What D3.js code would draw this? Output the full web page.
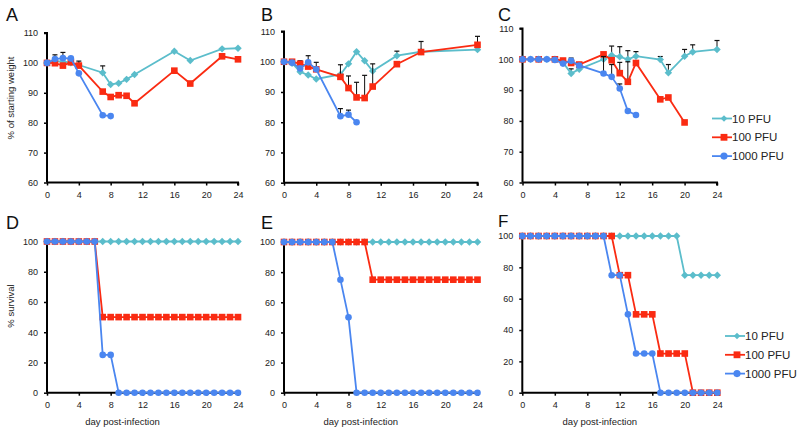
<!DOCTYPE html>
<html><head><meta charset="utf-8">
<script src="https://cdn.jsdelivr.net/npm/d3@7"></script>
<style>body{margin:0;background:#fff}svg{display:block}text{font-family:"Liberation Sans",Arial,sans-serif}</style>
</head><body><svg id="c" width="800" height="434"></svg>
<script>
// ---------- data ----------
const seriesLabels = ["10 PFU", "100 PFU", "1000 PFU"];
const xTicks = [0, 4, 8, 12, 16, 20, 24];
const weightTicks = [60, 70, 80, 90, 100, 110];
const survivalTicks = [0, 20, 40, 60, 80, 100];

// Panel A (weight)
const aDays10 = [0,1,2,3,4,7,8,9,10,11,16,18,22,24];
const aWeight10 = [100,100.5,100.5,100,99.3,96.7,92.8,93.2,94.5,96.1,103.9,100.8,104.7,104.9];
const aErr10 = [0,0,0,0,0,2.3,0,0,0,0,0,0,0,0];
const aDays100 = [0,1,2,3,4,7,8,9,10,11,16,18,22,24];
const aWeight100 = [100,99.9,99.1,100.2,99.1,90.4,88.6,89.2,89,86.5,97.4,93.1,102.2,101.2];
const aErr100 = [0,0,0,0,1.5,0,0,0,0,0,0,0,0,0];
const aDays1000 = [0,1,2,3,4,7,8];
const aWeight1000 = [100,101.3,101.6,101.5,96.5,82.5,82.2];
const aErr1000 = [0,1.4,1.9,0,0,0,0];

// Panel B (weight)
const bDays10 = [0,1,2,3,4,7,8,9,10,11,14,17,24];
const bWeight10 = [100,99.5,96.7,95.6,94.3,95.8,99.3,103.3,100.3,96.9,102,103.3,104];
const bErr10 = [0,0,0,0,0,0,0,0,0,0,1.5,0,0];
const bDays100 = [0,1,2,3,4,7,8,9,10,11,14,17,24];
const bWeight100 = [100,100,99.3,98.4,97.5,95,91.3,88.2,88,91.8,99.2,103.2,105.6];
const bErr100 = [0,0,1,0,0,4,4,5,7.5,7.5,0,3.5,2.8];
const bDays1000 = [0,1,2,3,4,7,8,9];
const bWeight1000 = [100,99.7,97.8,99.8,97.5,82,82.5,80];
const bErr1000 = [0,0,0,2.2,2.3,2.5,1.5,0];

// Panel C (weight)
const cDays10 = [0,1,2,3,4,5,6,7,10,11,12,13,14,17,18,20,21,24];
const cWeight10 = [100,100,100,100,100,99,95.4,96.8,100,101.3,100.8,100,101,99.9,95.6,101,102.4,103.2];
const cErr10 = [0,0,0,0,0,0,1.5,1.8,0,3,3.3,2.8,1.5,1,2.7,2.2,2.3,2.9];
const cDays100 = [0,2,4,5,6,7,10,11,12,13,14,17,18,20];
const cWeight100 = [100,100,100,99.6,98.8,98.3,101.6,99.7,95.5,92.7,98.8,87,87.6,79.5];
const cErr100 = [0,0,0,0,1.6,0,0,0,3.5,6.5,0,0,0,0];
const cDays1000 = [0,1,2,3,4,5,6,7,10,11,12,13,14];
const cWeight1000 = [100,100,100,100,99.8,98.6,99.5,98,95.4,94.3,90.5,83.2,81.9];
const cErr1000 = [0,0,0,0,0,0,0,0,5.5,4,1.5,0,0];

// Survival (days 0..24)
const survDays = [0,1,2,3,4,5,6,7,8,9,10,11,12,13,14,15,16,17,18,19,20,21,22,23,24];
const dSurv10   = [100,100,100,100,100,100,100,100,100,100,100,100,100,100,100,100,100,100,100,100,100,100,100,100,100];
const dSurv100  = [100,100,100,100,100,100,100,50,50,50,50,50,50,50,50,50,50,50,50,50,50,50,50,50,50];
const dSurv1000 = [100,100,100,100,100,100,100,25,25,0,0,0,0,0,0,0,0,0,0,0,0,0,0,0,0];
const eSurv10   = [100,100,100,100,100,100,100,100,100,100,100,100,100,100,100,100,100,100,100,100,100,100,100,100,100];
const eSurv100  = [100,100,100,100,100,100,100,100,100,100,100,75,75,75,75,75,75,75,75,75,75,75,75,75,75];
const eSurv1000 = [100,100,100,100,100,100,100,75,50,0,0,0,0,0,0,0,0,0,0,0,0,0,0,0,0];
const fSurv10   = [100,100,100,100,100,100,100,100,100,100,100,100,100,100,100,100,100,100,100,100,75,75,75,75,75];
const fSurv100  = [100,100,100,100,100,100,100,100,100,100,100,100,75,75,50,50,50,25,25,25,25,0,0,0,0];
const fSurv1000 = [100,100,100,100,100,100,100,100,100,100,100,75,75,50,25,25,25,0,0,0,0,0,0,0,0];

// ---------- drawing ----------
const colors = ["#5bbdcb", "#fa2b12", "#4a86f0"];
const shapes = ["diamond", "square", "circle"];
const svg = d3.select("#c");

function zipSeries(days, vals, errs) {
  return days.map((d, i) => ({ x: d, y: vals[i], e: errs ? errs[i] : 0 }));
}

const panels = [
  { letter: "A", lx: 6, ly: 21, x0: 47, x1: 238, yTop: 33, yBot: 182.5, dom: [60, 110], ticks: weightTicks, type: "w",
    series: [zipSeries(aDays10, aWeight10, aErr10), zipSeries(aDays100, aWeight100, aErr100), zipSeries(aDays1000, aWeight1000, aErr1000)] },
  { letter: "B", lx: 261, ly: 21, x0: 284, x1: 477.5, yTop: 31.5, yBot: 182.7, dom: [60, 110], ticks: weightTicks, type: "w",
    series: [zipSeries(bDays10, bWeight10, bErr10), zipSeries(bDays100, bWeight100, bErr100), zipSeries(bDays1000, bWeight1000, bErr1000)] },
  { letter: "C", lx: 498, ly: 21, x0: 522.5, x1: 717, yTop: 28.5, yBot: 182.5, dom: [60, 110], ticks: weightTicks, type: "w", legend: [712, 118.5],
    series: [zipSeries(cDays10, cWeight10, cErr10), zipSeries(cDays100, cWeight100, cErr100), zipSeries(cDays1000, cWeight1000, cErr1000)] },
  { letter: "D", lx: 6, ly: 229, x0: 47, x1: 238, yTop: 241.5, yBot: 392.7, dom: [0, 100], ticks: survivalTicks, type: "s",
    series: [zipSeries(survDays, dSurv10), zipSeries(survDays, dSurv100), zipSeries(survDays, dSurv1000)] },
  { letter: "E", lx: 261, ly: 229, x0: 284, x1: 477.5, yTop: 242, yBot: 392.7, dom: [0, 100], ticks: survivalTicks, type: "s",
    series: [zipSeries(survDays, eSurv10), zipSeries(survDays, eSurv100), zipSeries(survDays, eSurv1000)] },
  { letter: "F", lx: 498, ly: 226.5, x0: 522.3, x1: 717.3, yTop: 236, yBot: 392.7, dom: [0, 100], ticks: survivalTicks, type: "s", legend: [725, 336],
    series: [zipSeries(survDays, fSurv10), zipSeries(survDays, fSurv100), zipSeries(survDays, fSurv1000)] },
];

function drawMarker(g, shape, cx, cy, color, size) {
  if (shape === "circle") {
    g.append("circle").attr("cx", cx).attr("cy", cy).attr("r", size * 0.55).attr("fill", color);
  } else if (shape === "square") {
    const s = size * 1.05;
    g.append("rect").attr("x", cx - s / 2).attr("y", cy - s / 2).attr("width", s).attr("height", s).attr("fill", color);
  } else {
    const h = size * 0.6;
    g.append("path").attr("d", `M${cx},${cy - h}L${cx + h},${cy}L${cx},${cy + h}L${cx - h},${cy}Z`).attr("fill", color);
  }
}

panels.forEach(p => {
  const x = d3.scaleLinear().domain([0, 24]).range([p.x0, p.x1]);
  const y = d3.scaleLinear().domain(p.dom).range([p.yBot, p.yTop]);
  const g = svg.append("g");

  // panel letter
  svg.append("text").attr("x", p.lx).attr("y", p.ly).attr("font-size", p.letter === "F" ? 17 : 18).attr("fill", "#111").text(p.letter);

  // axes
  const yAxis = d3.axisLeft(y).tickValues(p.ticks).tickSize(3).tickPadding(6).tickFormat(d3.format("d"));
  const xAxis = d3.axisBottom(x).tickValues(xTicks).tickSize(3).tickPadding(6).tickFormat(d3.format("d"));
  const ya = g.append("g").attr("transform", `translate(${p.x0},0)`).call(yAxis);
  const xa = g.append("g").attr("transform", `translate(0,${p.yBot})`).call(xAxis);
  [ya, xa].forEach(a => {
    a.select(".domain").attr("stroke", "#000").attr("stroke-width", 2);
    a.selectAll(".tick line").attr("stroke", "#000").attr("stroke-width", 1.5);
    a.selectAll(".tick text").attr("font-size", 9).attr("fill", "#222").attr("font-family", "Liberation Sans, Arial, sans-serif");
  });
  ya.select(".domain").attr("d", `M-3,${p.yTop}H0V${p.yBot}`);
  xa.select(".domain").attr("d", `M${p.x0},0H${p.x1}V3`);

  // series
  p.series.forEach((s, si) => {
    const line = d3.line().x(d => x(d.x)).y(d => y(d.y));
    if (p.type === "w") {
      s.filter(d => d.e > 0).forEach(d => {
        const cx = x(d.x), yt = y(d.y + d.e);
        g.append("line").attr("x1", cx).attr("x2", cx).attr("y1", y(d.y)).attr("y2", yt).attr("stroke", "#111").attr("stroke-width", 1);
        g.append("line").attr("x1", cx - 2.5).attr("x2", cx + 2.5).attr("y1", yt).attr("y2", yt).attr("stroke", "#111").attr("stroke-width", 1.2);
      });
    }
    g.append("path").datum(s).attr("d", line).attr("fill", "none").attr("stroke", colors[si]).attr("stroke-width", 1.8);
    s.forEach(d => drawMarker(g, shapes[si], x(d.x), y(d.y), colors[si], si === 0 ? 6.2 : (si === 1 ? 6.3 : 6)));
  });

  // legend
  if (p.legend) {
    const [lx, ly] = p.legend;
    seriesLabels.forEach((lab, i) => {
      const yy = ly + i * 18.8;
      svg.append("line").attr("x1", lx).attr("x2", lx + 20).attr("y1", yy).attr("y2", yy).attr("stroke", colors[i]).attr("stroke-width", 1.8);
      drawMarker(svg, shapes[i], lx + 12, yy, colors[i], i === 0 ? 5.5 : 6.5);
      svg.append("text").attr("x", lx + 20).attr("y", yy + 4).attr("font-size", 11.5).attr("fill", "#222").text(lab);
    });
  }

  if (p.type === "s") {
    svg.append("text").attr("x", (p.x0 + p.x1) / 2 - 20).attr("y", 425).attr("text-anchor", "middle")
      .attr("font-size", 9.5).attr("fill", "#222").text("day post-infection");
  }
});

// y titles
svg.append("text").attr("transform", "translate(14,98) rotate(-90)").attr("text-anchor", "middle")
  .attr("font-size", 9.5).attr("fill", "#222").text("% of starting weight");
svg.append("text").attr("transform", "translate(14,306) rotate(-90)").attr("text-anchor", "middle")
  .attr("font-size", 9.5).attr("fill", "#222").text("% survival");
</script></body></html>
